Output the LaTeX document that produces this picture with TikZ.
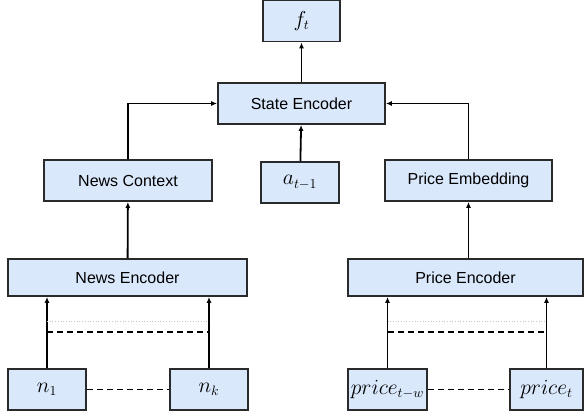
\documentclass[tikz,border=0pt]{standalone}
\usepackage[no-math]{fontspec}
\setmainfont{Liberation Sans}
\usetikzlibrary{arrows.meta}
\definecolor{boxFill}{HTML}{DAE8FC}
\definecolor{boxLine}{HTML}{2A2A2A}
\newcommand\bigMath[1]{\scalebox{1.25}{$#1$}}
\newlength\boxHeight
\newlength\lineWidth
\setlength\boxHeight{41pt}
\setlength\lineWidth{1.8pt}

\begin{document}
\begin{tikzpicture}[x=1pt,y=-1pt,
    block/.style={draw=boxLine,fill=boxFill,line width=\lineWidth,minimum height=\boxHeight,
      inner sep=0pt,font=\fontsize{16}{19}\selectfont},
    arr/.style={-{Latex[length=6pt,width=5pt]},line width=\lineWidth},
    skipline/.style={line width=\lineWidth,dash pattern=on 6pt off 4pt},
    faintline/.style={draw=gray!45,line width=0.7pt,dotted}]
    \useasboundingbox (0,0) rectangle (584,418);

    % top
    \node[block,minimum width=77pt] (ft) at (301.5,21) {\bigMath{f_t}};
    \node[block,minimum width=167pt] (state) at (301.5,103.5) {State Encoder};

    % middle row
    \node[block,minimum width=168pt] (ctx) at (128,180.5) {News Context};
    \node[block,minimum width=78pt] (act) at (300,182.5) {\bigMath{a_{t-1}}};
    \node[block,minimum width=167pt] (emb) at (468.5,180.5) {Price Embedding};

    % encoders
    \node[block,minimum width=239pt,minimum height=37pt] (nenc) at (127.5,277.5) {News Encoder};
    \node[block,minimum width=235pt,minimum height=37pt] (penc) at (465.5,277.5) {Price Encoder};

    % inputs
    \foreach \name/\x/\w/\txt in {n1/47/78pt/n_1,nk/209/78pt/n_k,p1/387.5/79pt/price_{t-w},pt/546.5/73pt/price_t} {
      \node[block,minimum width=\w] (\name) at (\x,389.5) {\bigMath{\txt}};
    }

    % arrows up
    \draw[arr] (state) -- (ft);
    \draw[arr] (act) -- (state);
    \draw[arr] (ctx.north) |- (state.west);
    \draw[arr] (emb.north) |- (state.east);
    \draw[arr] (nenc) -- (ctx);
    \draw[arr] (emb.south |- penc.north) -- (emb.south);
    \foreach \a/\enc in {n1/nenc,nk/nenc,p1/penc,pt/penc} {
      \draw[arr] (\a.north) -- (\a.north |- \enc.south);
    }

    % elided inputs
    \foreach \a/\b in {n1/nk,p1/pt} {
      \draw[faintline] (\a.north |- 0,321) -- (\b.north |- 0,321);
      \draw[skipline] (\a.north |- 0,332) -- (\b.north |- 0,332);
      \draw[skipline] (\a) -- (\b);
    }
\end{tikzpicture}
\end{document}
